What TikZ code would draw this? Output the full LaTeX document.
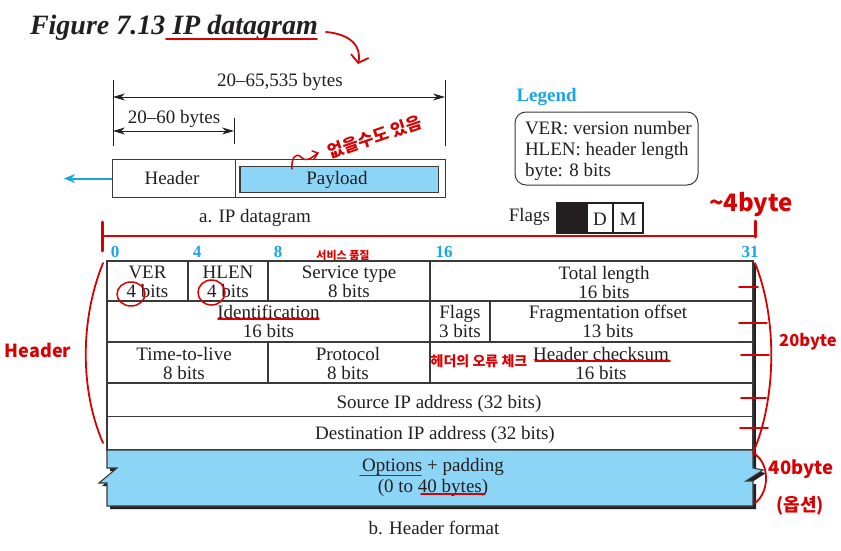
\documentclass[tikz,border=0pt]{standalone}
\usepackage{fontspec}
\setmainfont{Liberation Serif}
\newfontfamily\kr{Noto Sans CJK KR}
\usetikzlibrary{arrows.meta}
\definecolor{pblue}{HTML}{8DD5F6}
\definecolor{nblue}{HTML}{1BA4E6}
\definecolor{hred}{HTML}{D80000}
\definecolor{ink}{HTML}{231F20}
\definecolor{rule}{HTML}{3A3A3A}
\begin{document}
\begin{tikzpicture}[x=1pt,y=-1pt,
  every node/.style={inner sep=0pt,outer sep=0pt,text=ink},
  t19/.style={font=\fontsize{19}{19}\selectfont,align=center},
  bitnum/.style={font=\bfseries\fontsize{17}{17}\selectfont,text=nblue,anchor=base},
  rl/.style={draw=rule,line width=1.1pt},
  dimline/.style={draw=ink,line width=0.9pt},
  dimarrow/.style={draw=ink,line width=0.9pt,{Stealth[length=12pt,width=7pt]}-{Stealth[length=12pt,width=7pt]}},
  hand/.style={draw=hred,line width=1.8pt,line cap=round,line join=round},
  handtxt/.style={text=hred,font=\kr\bfseries\fontsize{19}{19}\selectfont}]
\useasboundingbox (0,0) rectangle (841,551);
\fill[white] (0,0) rectangle (841,551);

% ---------- title ----------
\node[anchor=base west,font=\bfseries\itshape\fontsize{28}{28}\selectfont] (title) at (30,35) {Figure 7.13 IP datagram};

% ---------- a. IP datagram ----------
\draw[dimline] (113,80) -- (113,146);
\draw[dimline] (445,80) -- (445,146);
\draw[dimline] (234,118) -- (234,144);
\coordinate (d1l) at (113,97); \coordinate (d1r) at (445,97);
\coordinate (d2l) at (113,131); \coordinate (d2r) at (234,131);
\draw[dimarrow] (d1l) -- (d1r);
\draw[dimarrow] (d2l) -- (d2r);
\node[t19,anchor=base] (lenall) at (280,87) {20–65,535 bytes};
\node[t19,anchor=base] (lenhdr) at (174,124) {20–60 bytes};

\draw[draw=rule,line width=1pt,fill=white] (112,159.5) rectangle (445,197.5);
\draw[draw=rule,line width=1pt] (235.5,159.5) -- (235.5,197.5);
\draw[draw=rule,line width=1.2pt,fill=pblue] (240,166.5) rectangle (438.5,192.5);
\node[t19,anchor=base] (hdr) at (172,184) {Header};
\node[t19,anchor=base] (pay) at (337,184) {Payload};
\coordinate (dgl) at (112,178.5); \coordinate (dgout) at (64,178.5);
\draw[draw=nblue,line width=2pt,-{Stealth[length=11pt,width=9pt]}] (dgl) -- (dgout);
\node[t19,anchor=base] (capa) at (255,222) {a. IP datagram};

% ---------- legend ----------
\node[anchor=base west,font=\bfseries\fontsize{19}{19}\selectfont,text=nblue] (legend) at (516.5,102) {Legend};
\draw[draw=rule,line width=1pt,rounded corners=11pt] (515,112) rectangle (698,185);
\node[t19,anchor=base west] (lg1) at (525,134) {VER: version number};
\node[t19,anchor=base west] (lg2) at (525,155) {HLEN: header length};
\node[t19,anchor=base west] (lg3) at (525,176) {byte: 8 bits};

% ---------- flags ----------
\node[t19,anchor=base east] (flagslbl) at (550,221.5) {Flags};
\draw[draw=ink,line width=1.3pt,fill=ink] (557,203) rectangle (587,233);
\draw[draw=ink,line width=1.3pt,fill=white] (587,203) rectangle (613,233);
\draw[draw=ink,line width=1.3pt,fill=white] (613,203) rectangle (643,233);
\node[t19,anchor=base] (fD) at (600,225) {D};
\node[t19,anchor=base] (fM) at (628,225) {M};

% ---------- bit numbers ----------
\node[bitnum] (b0) at (115,257) {0};
\node[bitnum] (b4) at (197,257) {4};
\node[bitnum] (b8) at (278,257) {8};
\node[bitnum] (b16) at (444,257) {16};
\node[bitnum] (b31) at (750,257) {31};

% ---------- header format table ----------
% shadow
\fill[ink] (110,264) rectangle (756,453);
\fill[ink] (110,453) -- (756,453) -- (756,471) -- (766,473) -- (749,484) -- (756,484) -- (756,509) -- (110,509) -- (110,486) -- (102,486) -- (120,471) -- (110,471) -- cycle;
% rows
\fill[white] (107,261) rectangle (753,450);
\draw[rl] (107,261) rectangle (753,450);
\draw[rl] (107,301) -- (753,301);
\draw[rl] (107,342) -- (753,342);
\draw[rl] (107,383) -- (753,383);
\draw[rl] (107,416.5) -- (753,416.5);
\draw[rl] (188,261) -- (188,301);
\draw[rl] (268,261) -- (268,301);
\draw[rl] (430,261) -- (430,383);
\draw[rl] (490,301) -- (490,342);
\draw[rl] (268,342) -- (268,383);
% options
\draw[rl,fill=pblue] (107,450) -- (753,450) -- (753,468) -- (763,470) -- (746,481) -- (753,481) -- (753,506) -- (107,506) -- (107,483) -- (99,483) -- (117,468) -- (107,468) -- cycle;

\node[t19] (ver) at (147.5,282) {VER\\4 bits};
\node[t19] (hlen) at (228,282) {HLEN\\4 bits};
\node[t19] (stype) at (349,282) {Service type\\8 bits};
\node[t19] (tlen) at (604,282) {Total length\\16 bits};
\node[t19] (ident) at (268.5,321) {Identification\\16 bits};
\node[t19] (flg) at (460,321) {Flags\\3 bits};
\node[t19] (frag) at (608,321) {Fragmentation offset\\13 bits};
\node[t19] (ttl) at (184,363) {Time-to-live\\8 bits};
\node[t19] (proto) at (348,363) {Protocol\\8 bits};
\node[t19] (chk) at (601,363) {Header checksum\\16 bits};
\node[t19,anchor=base] (src) at (439,408) {Source IP address (32 bits)};
\node[t19,anchor=base] (dst) at (435,439) {Destination IP address (32 bits)};
\node[t19,anchor=base] (opt1) at (433,471) {Options + padding};
\node[t19,anchor=base] (opt2) at (433,492) {(0 to 40 bytes)};
\node[t19,anchor=base] (capb) at (434,534) {b. Header format};

% ---------- red handwritten notes ----------
\draw[hand] (166,39) -- (317,39);
\draw[hand,-{Straight Barb[length=7pt,width=18pt]}] (326,32) .. controls (350,34) and (362,46) .. (358,64);
\draw[hand,line width=1.5pt] (292,169) .. controls (291,158) and (296,152) .. (301,157) .. controls (305,162) and (309,160) .. (318,153);
\draw[hand,line width=1.5pt] (312,151) -- (318,153) -- (314,159);
\node[handtxt,rotate=19,font=\kr\bfseries\fontsize{17}{17}\selectfont] (n1) at (375,137) {없을수도 있음};

\draw[hand] (102,236) -- (755,236);
\draw[hand,line width=3pt] (102,222) -- (102,251);
\draw[hand,line width=3pt] (755,221) -- (755,237);
\node[handtxt,font=\kr\bfseries\fontsize{24}{24}\selectfont] (n4b) at (751,205) {\textasciitilde4byte};

\node[handtxt,font=\kr\bfseries\fontsize{11}{11}\selectfont] (nsvc) at (343,255) {서비스 품질};
\draw[hand,line width=1.5pt] (131,294) ellipse (14 and 12);
\draw[hand,line width=1.5pt] (211.5,292.5) ellipse (13.5 and 12.5);
\draw[hand] (218,319) -- (319,319);
\node[handtxt,font=\kr\bfseries\fontsize{14}{14}\selectfont] (nchk) at (479,361) {헤더의 오류 체크};
\draw[hand] (535,361) -- (670,361);
\draw[hand] (360,475.5) -- (421,475.5);
\draw[hand] (421,494) -- (485,494);

\draw[hand] (103,263) .. controls (80,320) and (80,390) .. (103,443);
\node[handtxt,font=\kr\bfseries\fontsize{18}{18}\selectfont] (nhdr) at (38,350) {Header};

\draw[hand] (755,263) .. controls (778,320) and (776,400) .. (753,453) .. controls (770,462) and (770,492) .. (755,503);
\foreach \yy/\xa/\xb in {287/739/758, 323/739/767, 355/741/769, 398/741/766, 428/740/768}
  \draw[hand] (\xa,\yy) -- (\xb,\yy);
\node[handtxt,font=\kr\bfseries\fontsize{16.5}{16.5}\selectfont] (n20) at (808,342) {20byte};
\node[handtxt,font=\kr\bfseries\fontsize{18.5}{18.5}\selectfont] (n40) at (801,469) {40byte};
\node[handtxt,font=\kr\bfseries\fontsize{18}{18}\selectfont] (nopt) at (800,506) {(옵션)};
\end{tikzpicture}
\end{document}
